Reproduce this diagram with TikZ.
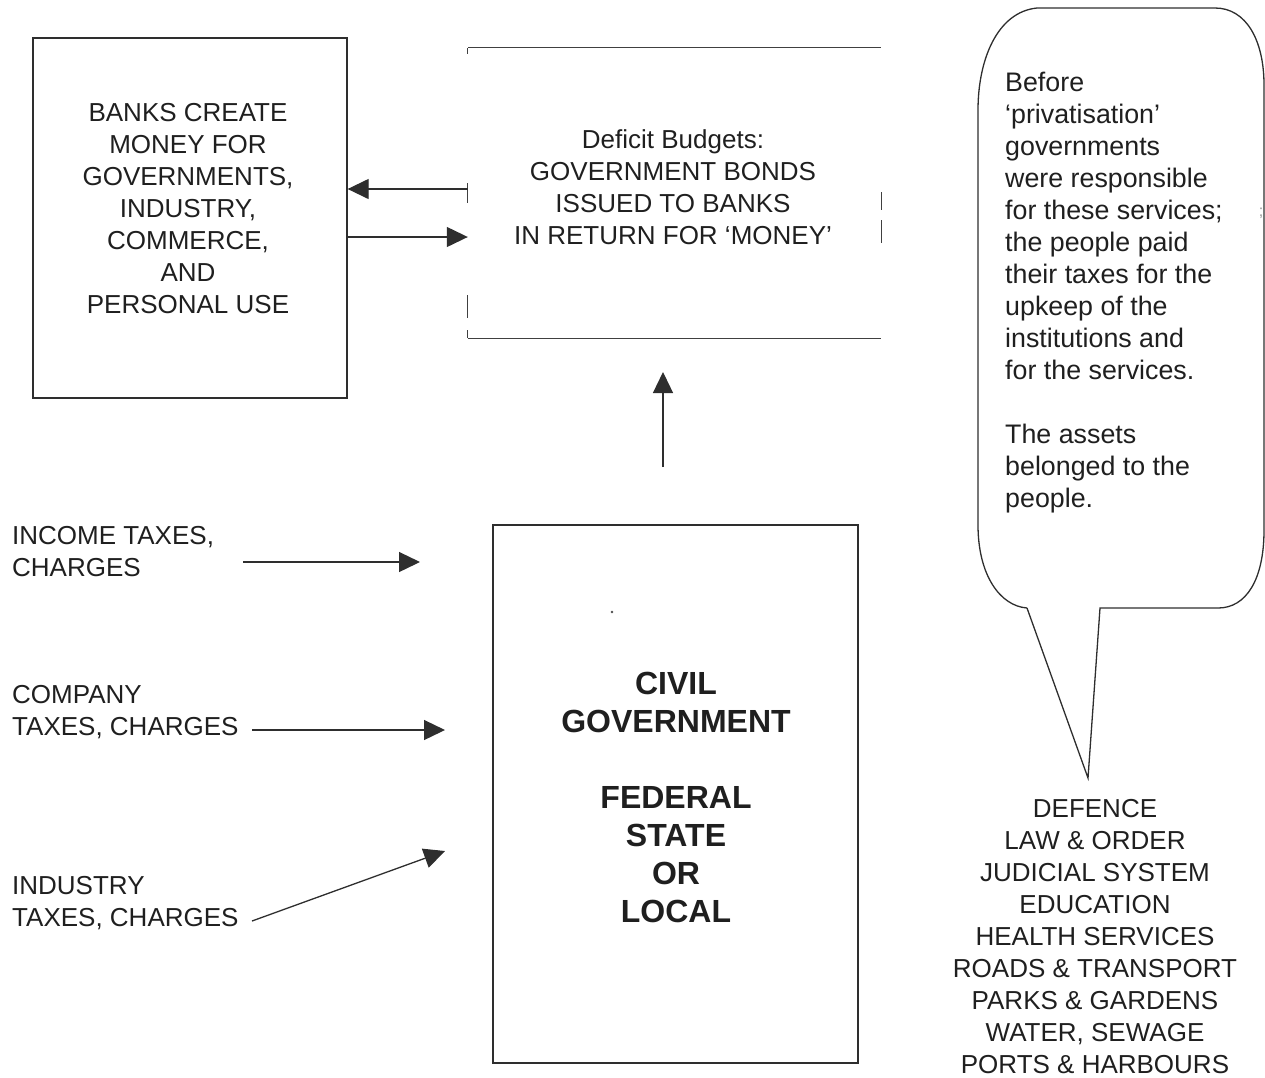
\documentclass[tikz,border=0pt]{standalone}
\usepackage{fontspec}
\setmainfont{Liberation Sans}
\usetikzlibrary{arrows.meta}
\begin{document}
\begin{tikzpicture}[x=1pt,y=-1pt,
  box/.style={draw=black!82, line width=1.3pt, inner sep=0pt},
  txt/.style={text=black!88, font=\fontsize{26}{32}\selectfont, align=center, inner sep=0pt},
  btxt/.style={text=black!88, font=\fontsize{32}{38}\selectfont\bfseries, align=center, inner sep=0pt},
  arr/.style={draw=black!82, line width=1.3pt, -{Triangle[length=21pt,width=20pt]}},
  edge/.style={draw=black!75, line width=1.2pt}]
\useasboundingbox (0,0) rectangle (1265,1077);

% Banks box
\node[box, minimum width=314pt, minimum height=360pt] (banks) at (190,218) {};
\node[txt] (banksT) at (188,209) {BANKS CREATE\\MONEY FOR\\GOVERNMENTS,\\INDUSTRY,\\COMMERCE,\\AND\\PERSONAL USE};

% Deficit box (partial borders)
\node[minimum width=413pt, minimum height=290pt, inner sep=0pt] (defic) at (674.5,193) {};
\node[txt] (deficT) at (673,187.5) {Deficit Budgets:\\GOVERNMENT BONDS\\ISSUED TO BANKS\\IN RETURN FOR ‘MONEY’};
\draw[edge] (defic.north west) -- (defic.north east);
\draw[edge] (defic.south west) -- (defic.south east);
\draw[edge] (defic.north west) -- ++(0,6);
\draw[edge] (defic.west |- 0,183) -- (defic.west |- 0,203);
\draw[edge] (defic.west |- 0,295) -- (defic.west |- 0,318);
\draw[edge] (defic.south west) -- ++(0,-8);
\draw[edge] (defic.east |- 0,192) -- (defic.east |- 0,210);
\draw[edge] (defic.east |- 0,220) -- (defic.east |- 0,243);

\draw[arr] (defic.west |- 0,189) -- (banks.east |- 0,189);
\draw[arr] (banks.east |- 0,237) -- (defic.west |- 0,237);

% Civil government box
\node[box, minimum width=365pt, minimum height=538pt] (civil) at (675.5,794) {};
\node[btxt] (civilT) at (676,797) {CIVIL\\GOVERNMENT\\[38pt]FEDERAL\\STATE\\OR\\LOCAL};
\fill[black!70] (612,612) circle[radius=1.3pt];

\coordinate (upS) at (663,467);
\coordinate (upE) at (663,372);
\draw[arr] (upS) -- (upE);

% Left labels
\node[txt, align=left, anchor=west] (income) at (12,552) {INCOME TAXES,\\CHARGES};
\node[txt, align=left, anchor=west] (company) at (12,712) {COMPANY\\TAXES, CHARGES};
\node[txt, align=left, anchor=west] (industry) at (12,903) {INDUSTRY\\TAXES, CHARGES};

\coordinate (i1) at (243,562); \coordinate (i2) at (420,562);
\coordinate (c1) at (252,730); \coordinate (c2) at (445,730);
\coordinate (n1) at (252,921); \coordinate (n2) at (445,851);
\draw[arr] (i1) -- (i2);
\draw[arr] (c1) -- (c2);
\draw[arr] (n1) -- (n2);

% Speech bubble
\draw[black!82, line width=1.3pt]
  (1027,608) -- (1088,778) -- (1100,608) -- (1218,608)
  .. controls (1246,608) and (1264,580) .. (1264,530)
  -- (1264,85)
  .. controls (1264,40) and (1246,8) .. (1215,8)
  -- (1037,8)
  .. controls (997,12) and (978,60) .. (978,110)
  -- (978,525)
  .. controls (978,575) and (1000,606) .. (1027,608);

\node[text=black!88, font=\fontsize{26.8}{32}\selectfont, align=left, anchor=west, inner sep=0pt] (bubT) at (1005,293)
  {Before\\‘privatisation’\\governments\\were responsible\\for these services;\\the people paid\\their taxes for the\\upkeep of the\\institutions and\\for the services.\\[32pt]The assets\\belonged to the\\people.};
\node[text=black!40, font=\fontsize{16}{16}\selectfont, inner sep=0pt] (semi) at (1261,213) {;};

% Services list
\node[txt] (serv) at (1095,936.5) {DEFENCE\\LAW \& ORDER\\JUDICIAL SYSTEM\\EDUCATION\\HEALTH SERVICES\\ROADS \& TRANSPORT\\PARKS \& GARDENS\\WATER, SEWAGE\\PORTS \& HARBOURS};
\end{tikzpicture}
\end{document}
